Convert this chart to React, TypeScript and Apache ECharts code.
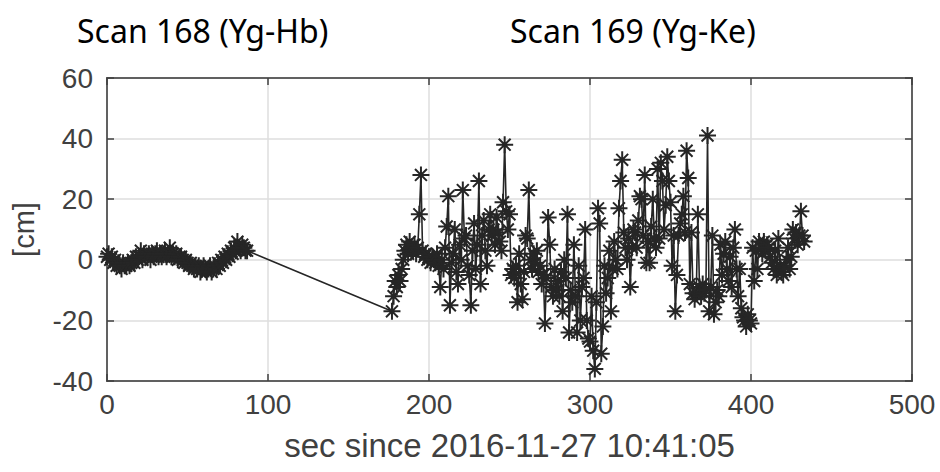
import React, { useEffect, useRef } from "react";
import * as echarts from "echarts";

// Scan 168 (Yg-Hb): one sample per second starting at t = 0 s
const scan1Start = 0;
const scan1Values = [
  1, 2, 0, 1, -1, 0, -2, -1, -2, -3, -1, -2, -2, -1, -2, -1, 0, -1, 1, 0,
  1, 3, 0, 2, 1, 1, 2, 0, 2, 1, 2, 3, 1, 2, 1, 2, 3, 1, 2, 4,
  1, 2, 1, 2, 0, 1, 1, 0, -1, 0, -1, -2, -1, -2, -3, -2, -3, -2, -4, -3,
  -2, -3, -4, -3, -2, -4, -3, -2, -3, -1, -2, 0, -1, 1, 0, 2, 1, 3, 2, 4,
  3, 6, 4, 3, 5, 4, 3, 3,
];

// Scan 169 (Yg-Ke): one sample per second starting at t = 177 s
const scan2Start = 177;
const scan2Values = [
  -17, -12, -7, -9, -5, -7, -3, 0, 3, 5, 2, 6, 4, 3, 5, 2, 4, 15, 28, 3,
  1, 2, 0, 1, -1, 1, 0, -1, 2, -2, -9, 0, -3, 4, 11, 21, -15, -1, 2, 10,
  -4, -8, 5, 0, 23, 7, 8, -2, -5, -15, 3, 12, -3, 5, 26, -8, 8, 13, 3, -2,
  10, 15, 8, 10, 5, 14, 9, 6, 3, 19, 38, 16, 10, 15, -5, -3, -6, -2, -14, 2,
  -8, -13, -4, 8, 7, 23, 0, -3, 2, -1, 3, -4, -2, -8, -5, -21, -6, 14, 5, -9,
  -12, -3, -10, -7, -12, -4, -17, 0, -6, 15, -24, -10, -14, 5, -12, -24, -2, -20, -9, -6,
  10, -20, -26, -27, -12, -30, -36, -14, 17, 12, -31, -22, -2, -11, -6, 3, -17, -3, 6, 0,
  -3, 17, 26, 33, 9, 4, 0, 7, -9, 4, 10, 9, 4, 13, 21, 20, 8, 28, -1, 6,
  -1, 11, 20, 7, 4, 30, 7, 32, 26, 10, 18, 34, 26, 19, -2, 8, -17, -5, 8, 12,
  15, 21, 9, 36, 27, -8, 9, -11, -13, -11, 15, -9, -12, -8, -11, -10, 41, -17, -9, 8,
  -18, -14, -10, -12, 5, -5, 2, 6, -3, -7, 1, -9, 4, 10, -3, -12, -3, -16, -19, -20,
  -22, -18, -20, -21, 4, -7, 3, -3, 6, 4, 2, 6, 3, 5, 4, 1, -1, -3, 3, -5,
  7, -2, -4, -5, -2, 0, 4, -3, 1, 10, 7, 9, 5, 8, 16, 8, 6,
];

const xTicks = [0, 100, 200, 300, 400, 500];
const yTicks = [-40, -20, 0, 20, 40, 60];
const scanTitles = ["Scan 168 (Yg-Hb)", "Scan 169 (Yg-Ke)"];
const xAxisName = "sec since 2016-11-27 10:41:05";
const yAxisName = "[cm]";

const STAR = "path://M0 5L10 5M5 0L5 10M1.5 1.5L8.5 8.5M8.5 1.5L1.5 8.5";

export default function App() {
  const ref = useRef<HTMLDivElement>(null);

  useEffect(() => {
    if (!ref.current) return;
    const chart = echarts.init(ref.current, null, { renderer: "svg" });

    const data: [number, number][] = [];
    scan1Values.forEach((v, i) => data.push([scan1Start + i, v]));
    scan2Values.forEach((v, i) => data.push([scan2Start + i, v]));

    const labelColor = "#404040";
    const axisColor = "#404040";
    const font = "'Liberation Sans', Arial, sans-serif";
    const titleFont = "32px 'Noto Sans', sans-serif";

    chart.setOption({
      animation: false,
      backgroundColor: "#ffffff",
      graphic: [
        {
          type: "text",
          left: 77,
          top: 14,
          style: { text: scanTitles[0], font: titleFont, fill: "#000000" },
        },
        {
          type: "text",
          left: 510,
          top: 14,
          style: { text: scanTitles[1], font: titleFont, fill: "#000000" },
        },
      ],
      grid: {
        left: 107,
        right: 28,
        top: 78,
        bottom: 91,
        show: true,
        borderColor: axisColor,
        borderWidth: 1.5,
        backgroundColor: "#ffffff",
      },
      xAxis: [
        {
          type: "value",
          min: xTicks[0],
          max: xTicks[xTicks.length - 1],
          interval: 100,
          name: xAxisName,
          nameLocation: "middle",
          nameGap: 48,
          nameTextStyle: { fontSize: 33, color: labelColor, fontFamily: font },
          axisLine: { show: true, onZero: false, lineStyle: { color: axisColor, width: 1.5 } },
          axisTick: { show: true, inside: true, length: 7, lineStyle: { color: axisColor, width: 1.5 } },
          axisLabel: { fontSize: 28, color: labelColor, fontFamily: font, margin: 9 },
          splitLine: { show: true, lineStyle: { color: "#dedede", width: 1.5 } },
        },
        {
          type: "value",
          position: "top",
          min: xTicks[0],
          max: xTicks[xTicks.length - 1],
          interval: 100,
          axisLine: { show: true, onZero: false, lineStyle: { color: axisColor, width: 1.5 } },
          axisTick: { show: true, inside: true, length: 7, lineStyle: { color: axisColor, width: 1.5 } },
          axisLabel: { show: false },
          splitLine: { show: false },
        },
      ],
      yAxis: [
        {
          type: "value",
          min: yTicks[0],
          max: yTicks[yTicks.length - 1],
          interval: 20,
          name: yAxisName,
          nameLocation: "middle",
          nameGap: 69,
          nameRotate: 90,
          nameTextStyle: { fontSize: 29, color: labelColor, fontFamily: font },
          axisLine: { show: true, onZero: false, lineStyle: { color: axisColor, width: 1.5 } },
          axisTick: { show: true, inside: true, length: 7, lineStyle: { color: axisColor, width: 1.5 } },
          axisLabel: { fontSize: 28, color: labelColor, fontFamily: font, margin: 14 },
          splitLine: { show: true, lineStyle: { color: "#dedede", width: 1.5 } },
        },
        {
          type: "value",
          position: "right",
          min: yTicks[0],
          max: yTicks[yTicks.length - 1],
          interval: 20,
          axisLine: { show: true, onZero: false, lineStyle: { color: axisColor, width: 1.5 } },
          axisTick: { show: true, inside: true, length: 7, lineStyle: { color: axisColor, width: 1.5 } },
          axisLabel: { show: false },
          splitLine: { show: false },
        },
      ],
      series: [
        {
          type: "line",
          xAxisIndex: 0,
          yAxisIndex: 0,
          data,
          silent: true,
          symbol: STAR,
          symbolSize: 17,
          showAllSymbol: true,
          itemStyle: { color: "#262626", borderColor: "#262626", borderWidth: 2 },
          lineStyle: { color: "#262626", width: 1.6 },
          emphasis: { disabled: true },
        },
      ],
    });

    return () => chart.dispose();
  }, []);

  return (
    <div
      ref={ref}
      style={{ position: "absolute", left: 0, top: 0, width: 940, height: 472 }}
    />
  );
}
